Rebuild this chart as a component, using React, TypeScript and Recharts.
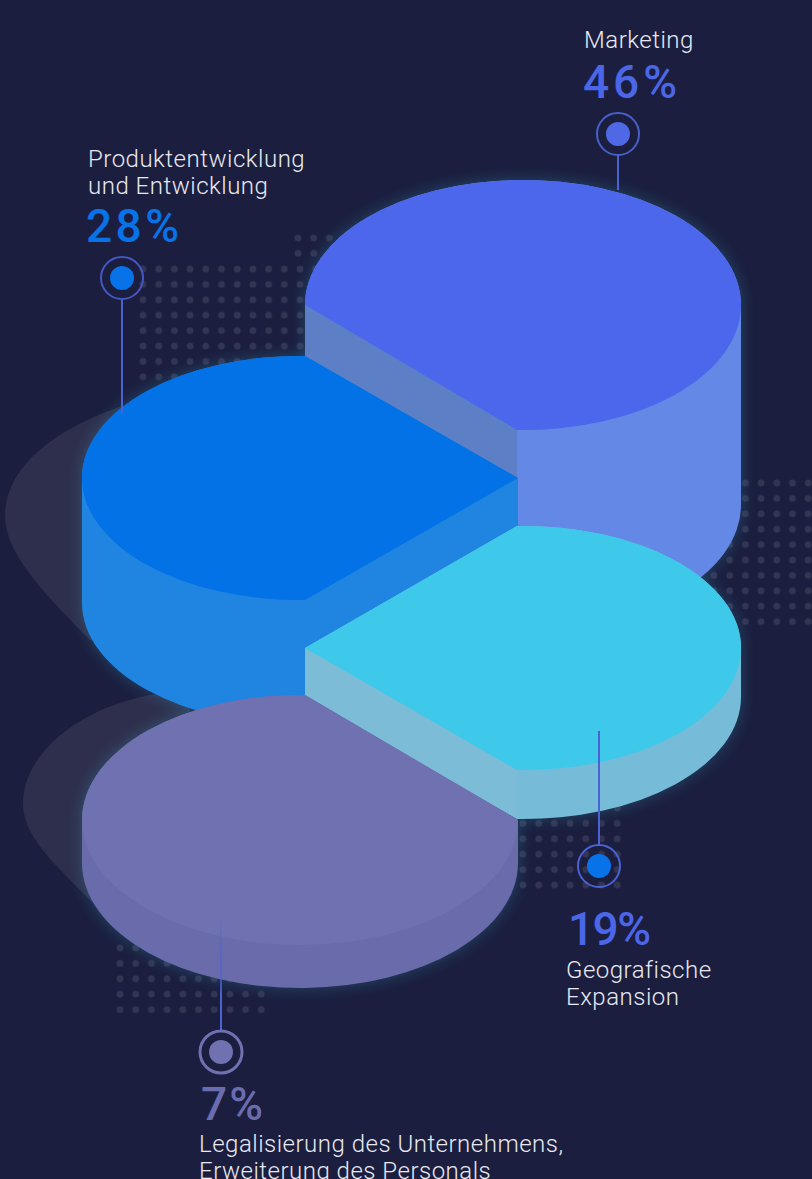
import React from "react";
import { PieChart, Pie } from "recharts";

const categories = ["Marketing", "Produktentwicklung und Entwicklung", "Geografische Expansion", "Legalisierung des Unternehmens, Erweiterung des Personals"];
const shares = [46, 28, 19, 7];
const labelLines = [["Marketing"], ["Produktentwicklung", "und Entwicklung"], ["Geografische", "Expansion"], ["Legalisierung des Unternehmens,", "Erweiterung des Personals"]];

const data = categories.map((name, i) => ({ name, value: shares[i] }));

const FONT = "Roboto, sans-serif";
const BG = "#1b1e3e";
const RX = 218;
const DOT_X = 15.7;
const DOT_Y = 15.4;

// where each slab sits in the isometric stack; cut = quadrants drawn as straight chords
const SLABS = [
  { cx: 523, cy: 305, ry: 125, tip: -6, depth: 200, cut: ["bl"], top: "#4c67ec", side: "#6488e6", wall: "#5c7fc6" },
  { cx: 300, cy: 478, ry: 122, tip: 5, depth: 125, cut: ["tr", "br"], top: "#0272e6", side: "#1f85e1", wall: "#1f85e1" },
  { cx: 523, cy: 648, ry: 122, tip: -6, depth: 49, cut: ["tl", "bl"], top: "#3ec9ea", side: "#76bcd8", wall: "#7dbcd6" },
  { cx: 300, cy: 820, ry: 125, tip: 5, depth: 43, cut: ["tr"], top: "#6f71b1", side: "#696bab", wall: "#696bab" },
];

const CALLOUTS = [
  { x: 618, ringY: 134, lineFrom: 155, lineTo: 190, line: "#4a62d4", ring: "#4560c8", ringW: 2, dot: "#4f69e6", pct: { x: 583, y: 98, w: 94, fill: "#4b66e6" }, text: { x: 584, y: 48 } },
  { x: 122, ringY: 278, lineFrom: 300, lineTo: 414, line: "#4a62d4", ring: "#4458c4", ringW: 2, dot: "#0872e8", pct: { x: 86, y: 242, w: 93, fill: "#0872e8" }, text: { x: 88, y: 167 } },
  { x: 599, ringY: 866, lineFrom: 731, lineTo: 845, line: "#4a62d4", ring: "#4a62d4", ringW: 2, dot: "#0872e8", pct: { x: 568, y: 945, w: 83, fill: "#4b66e6" }, text: { x: 566, y: 978 } },
  { x: 221, ringY: 1052, lineFrom: 918, lineTo: 1030, line: "url(#fadeLine)", ring: "#6f71b1", ringW: 3, dot: "#6f71b1", pct: { x: 201, y: 1120, w: 62, fill: "#6a6cb0" }, text: { x: 199, y: 1152 } },
];

const DOT_FIELDS = [
  { x: 143, y: 269, cols: 12, rows: 8 },
  { x: 298, y: 238, cols: 3, rows: 2 },
  { x: 714, y: 483, cols: 7, rows: 10 },
  { x: 523, y: 808, cols: 7, rows: 6 },
  { x: 120, y: 948, cols: 10, rows: 5 },
];

type SlabDef = (typeof SLABS)[number];

function outline(s: SlabDef, dy = 0) {
  const r = `${s.cx + RX},${s.cy + dy}`;
  const b = `${s.cx + s.tip},${s.cy + s.ry + dy}`;
  const l = `${s.cx - RX},${s.cy + dy}`;
  const t = `${s.cx + s.tip},${s.cy - s.ry + dy}`;
  const seg = (q: string, to: string) => (s.cut.includes(q) ? `L${to}` : `A${RX},${s.ry} 0 0 1 ${to}`);
  return `M${r} ${seg("br", b)} ${seg("bl", l)} ${seg("tl", t)} ${seg("tr", r)}Z`;
}

function wallPath(s: SlabDef, q: string) {
  const bx = s.cx + s.tip;
  const by = s.cy + s.ry;
  const ex = q === "bl" ? s.cx - RX : s.cx + RX;
  return `M${ex},${s.cy} L${bx},${by} L${bx},${by + s.depth} L${ex},${s.cy + s.depth}Z`;
}

function Silhouette({ s, fill }: { s: SlabDef; fill: string }) {
  return (
    <>
      <path d={outline(s, s.depth)} fill={fill} />
      <rect x={s.cx - RX} y={s.cy} width={RX * 2} height={s.depth} fill={fill} />
      <path d={outline(s)} fill={fill} />
    </>
  );
}

function indexOf(props: any) {
  return categories.indexOf(props.name ?? props.payload?.name);
}

// separate pass so the halo stays behind every slab
function SlabGlow(props: any) {
  const i = indexOf(props);
  if (i < 0) return null;
  return (
    <g filter="url(#glow)" opacity={0.25}>
      <Silhouette s={SLABS[i]} fill="#3fc2e8" />
    </g>
  );
}

function Slab(props: any) {
  const i = indexOf(props);
  if (i < 0) return null;
  const s = SLABS[i];
  const c = CALLOUTS[i];
  const pct = Math.round(props.percent * 100);
  return (
    <g>
      <Silhouette s={s} fill={s.side} />
      {s.cut.filter((q) => q[0] === "b").map((q) => (
        <path key={q} d={wallPath(s, q)} fill={s.wall} />
      ))}
      <path d={outline(s)} fill={s.top} />
      <rect x={c.x - 1} y={c.lineFrom} width={2} height={c.lineTo - c.lineFrom} fill={c.line} />
      <circle cx={c.x} cy={c.ringY} r={21} fill="none" stroke={c.ring} strokeWidth={c.ringW} />
      <circle cx={c.x} cy={c.ringY} r={12} fill={c.dot} />
      <text x={c.pct.x} y={c.pct.y} fill={c.pct.fill} fontFamily={FONT} fontSize={46} fontWeight={500} textLength={c.pct.w} lengthAdjust="spacing">
        {pct}%
      </text>
      {labelLines[i].map((line, k) => (
        <text key={line} x={c.text.x} y={c.text.y + k * 27} fill="#e8e9f1" fontFamily={FONT} fontSize={24} fontWeight={300} letterSpacing={0.5}>
          {line}
        </text>
      ))}
    </g>
  );
}

export default function App() {
  return (
    <div style={{ position: "absolute", left: 0, top: 0, width: 812, height: 1179, background: BG, overflow: "hidden" }}>
      <PieChart width={812} height={1179} margin={{ top: 0, right: 0, bottom: 0, left: 0 }}>
        <defs>
          <filter id="glow" x="-15%" y="-15%" width="130%" height="130%">
            <feGaussianBlur stdDeviation={8} />
          </filter>
          <linearGradient id="fadeLine" x1="0" y1="0" x2="0" y2="1">
            <stop offset="0" stopColor="#4a62d4" stopOpacity={0.15} />
            <stop offset="0.55" stopColor="#4a62d4" stopOpacity={0.7} />
            <stop offset="0.7" stopColor="#4a62d4" />
          </linearGradient>
          {DOT_FIELDS.map((f, i) => (
            <pattern key={i} id={`dots${i}`} x={f.x - DOT_X / 2} y={f.y - DOT_Y / 2} width={DOT_X} height={DOT_Y} patternUnits="userSpaceOnUse">
              <circle cx={DOT_X / 2} cy={DOT_Y / 2} r={3.4} fill="#333553" />
            </pattern>
          ))}
        </defs>
        {DOT_FIELDS.map((f, i) => (
          <rect key={i} x={f.x - DOT_X / 2} y={f.y - DOT_Y / 2} width={f.cols * DOT_X} height={f.rows * DOT_Y} fill={`url(#dots${i})`} />
        ))}
        <path d="M125,405 C50,430 5,470 5,515 C5,550 35,585 90,640 L160,640 L160,405Z" fill="#2e2f4c" />
        <path d="M190,690 C90,695 23,750 23,803 C23,835 50,860 95,905 L190,905Z" fill="#2e2f4c" />
        <Pie data={data} dataKey="value" nameKey="name" cx={406} cy={590} outerRadius={200} isAnimationActive={false} shape={SlabGlow} stroke="none" />
        <Pie data={data} dataKey="value" nameKey="name" cx={406} cy={590} outerRadius={200} isAnimationActive={false} shape={Slab} stroke="none" />
      </PieChart>
    </div>
  );
}
